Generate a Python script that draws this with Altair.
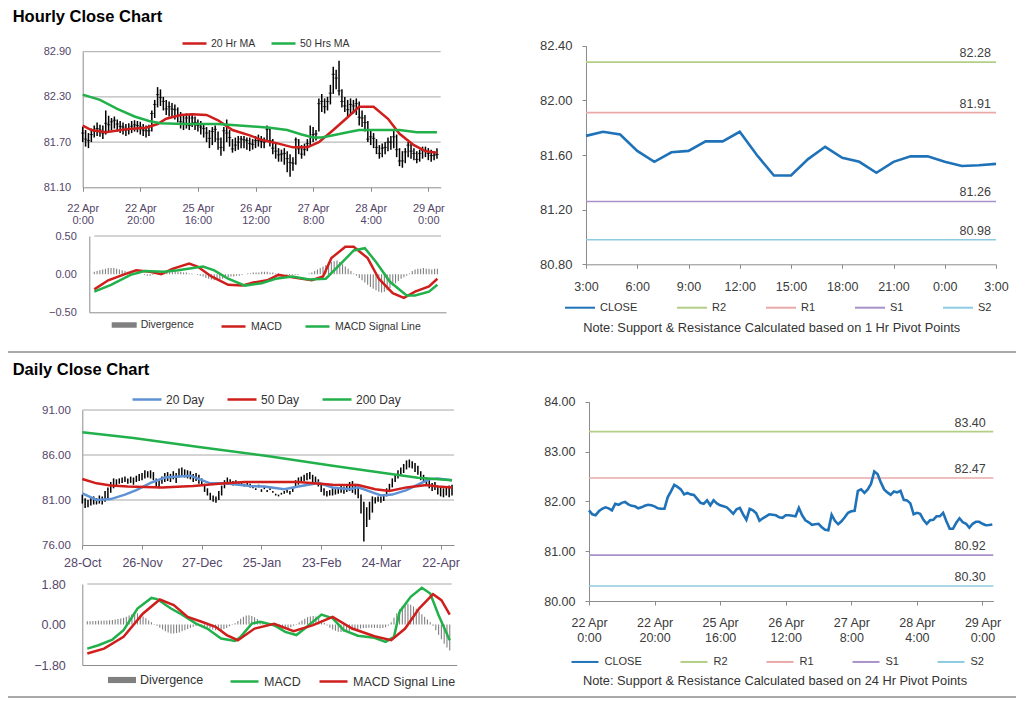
import json
import pandas as pd
import altair as alt

# ======================= DATA =======================
HOURLY_TICKS = [["22 Apr", "0:00"], ["22 Apr", "20:00"], ["25 Apr", "16:00"], ["26 Apr", "12:00"],
                ["27 Apr", "8:00"], ["28 Apr", "4:00"], ["29 Apr", "0:00"]]
PIVOT_HOURS = ["3:00", "6:00", "9:00", "12:00", "15:00", "18:00", "21:00", "0:00", "3:00"]
DAILY_TICKS = ["28-Oct", "26-Nov", "27-Dec", "25-Jan", "23-Feb", "24-Mar", "22-Apr"]

# hourly closes (22 Apr 0:00 ... 29 Apr 3:00)
h_close = [81.82, 81.74, 81.72, 81.80, 81.85, 81.88, 81.86, 81.82, 81.95, 81.93,
           81.97, 81.99, 81.94, 81.91, 81.90, 81.86, 81.88, 81.91, 81.93, 81.92,
           81.90, 81.86, 81.85, 81.85, 82.08, 82.20, 82.33, 82.29, 82.24, 82.14,
           82.17, 82.14, 82.13, 82.05, 81.97, 81.95, 82.02, 81.92, 82.02, 81.96,
           81.92, 81.90, 81.88, 81.82, 81.75, 81.84, 81.87, 81.74, 81.63, 81.85,
           81.82, 81.76, 81.61, 81.66, 81.70, 81.74, 81.73, 81.72, 81.68, 81.67,
           81.72, 81.72, 81.71, 81.70, 81.87, 81.72, 81.62, 81.58, 81.53, 81.54,
           81.55, 81.48, 81.43, 81.42, 81.73, 81.61, 81.54, 81.60, 81.68, 81.77,
           81.80, 81.81, 82.21, 82.24, 82.17, 82.24, 82.35, 82.60, 82.55, 82.38,
           82.24, 82.18, 82.13, 82.20, 82.18, 82.21, 82.03, 82.02, 81.96, 81.74,
           81.77, 81.75, 81.63, 81.55, 81.62, 81.63, 81.70, 81.70, 81.77, 81.60,
           81.45, 81.45, 81.57, 81.66, 81.58, 81.55, 81.47, 81.55, 81.59, 81.59,
           81.55, 81.52, 81.525, 81.535]
h_high = [81.90, 81.86, 81.82, 81.88, 81.92, 81.96, 81.93, 81.92, 82.12, 82.05,
          82.02, 82.04, 82.00, 81.98, 81.96, 81.94, 81.95, 81.98, 81.99, 81.98,
          81.97, 81.94, 81.92, 81.93, 82.12, 82.26, 82.43, 82.40, 82.30, 82.26,
          82.24, 82.22, 82.20, 82.16, 82.10, 82.06, 82.08, 82.06, 82.08, 82.04,
          82.00, 81.98, 81.94, 81.90, 81.86, 81.90, 81.92, 81.84, 81.76, 81.90,
          82.00, 81.86, 81.74, 81.76, 81.78, 81.78, 81.78, 81.76, 81.76, 81.74,
          81.78, 81.80, 81.78, 81.76, 81.92, 81.88, 81.74, 81.68, 81.62, 81.60,
          81.62, 81.58, 81.54, 81.50, 81.76, 81.74, 81.66, 81.68, 81.74, 81.92,
          81.90, 81.86, 82.28, 82.34, 82.28, 82.30, 82.46, 82.70, 82.66, 82.78,
          82.40, 82.30, 82.26, 82.28, 82.26, 82.28, 82.24, 82.12, 82.06, 81.98,
          81.86, 81.82, 81.74, 81.66, 81.68, 81.70, 81.76, 81.78, 81.86, 81.80,
          81.62, 81.58, 81.62, 81.70, 81.68, 81.62, 81.58, 81.60, 81.64, 81.64,
          81.62, 81.60, 81.58, 81.62]
h_low = [81.70, 81.64, 81.62, 81.70, 81.76, 81.78, 81.77, 81.74, 81.80, 81.84,
         81.86, 81.88, 81.84, 81.82, 81.80, 81.78, 81.80, 81.82, 81.84, 81.83,
         81.80, 81.78, 81.76, 81.78, 81.84, 82.02, 82.16, 82.18, 82.12, 82.06,
         82.04, 82.02, 82.00, 81.96, 81.88, 81.86, 81.88, 81.86, 81.90, 81.86,
         81.84, 81.80, 81.76, 81.70, 81.62, 81.66, 81.70, 81.60, 81.52, 81.58,
         81.70, 81.64, 81.56, 81.58, 81.60, 81.62, 81.62, 81.60, 81.58, 81.60,
         81.62, 81.64, 81.62, 81.62, 81.70, 81.64, 81.54, 81.48, 81.44, 81.44,
         81.40, 81.30, 81.24, 81.32, 81.40, 81.54, 81.48, 81.52, 81.58, 81.66,
         81.70, 81.72, 81.84, 82.10, 82.08, 82.12, 82.20, 82.34, 82.40, 82.32,
         82.16, 82.10, 82.04, 82.06, 82.08, 82.06, 81.92, 81.90, 81.84, 81.70,
         81.66, 81.62, 81.54, 81.48, 81.50, 81.54, 81.58, 81.60, 81.62, 81.50,
         81.38, 81.36, 81.42, 81.50, 81.48, 81.46, 81.42, 81.44, 81.48, 81.50,
         81.46, 81.44, 81.46, 81.48]

ma20_i = [0, 3, 8, 15, 22, 26, 29, 34, 38, 43, 47, 52, 58, 62, 68, 73, 78, 82, 87, 92, 96, 101, 106, 110, 115, 119, 123]
ma20_v = [81.92, 81.86, 81.83, 81.87, 81.89, 81.94, 82.01, 82.06, 82.07, 82.06, 81.99, 81.86, 81.79, 81.73,
          81.68, 81.63, 81.63, 81.70, 81.86, 82.03, 82.17, 82.17, 82.01, 81.81, 81.66, 81.58, 81.56]
ma50_i = [0, 6, 12, 18, 23, 27, 35, 47, 58, 65, 71, 76, 80, 83, 87, 92, 96, 101, 110, 116, 123]
ma50_v = [82.33, 82.26, 82.14, 82.04, 81.98, 81.95, 81.94, 81.94, 81.91, 81.89, 81.86, 81.80, 81.76, 81.76,
          81.79, 81.83, 81.86, 81.86, 81.86, 81.83, 81.83]

h_div = [0.03, 0.04, 0.05, 0.06, 0.07, 0.08, 0.08, 0.08, 0.07, 0.06,
         0.05, 0.04, 0.03, 0.03, 0.02, 0.02, 0.01, 0.00, -0.01, -0.02,
         -0.02, -0.01, 0.00, 0.01, 0.02, 0.02, 0.03, 0.03, 0.04, 0.04,
         0.03, 0.03, 0.02, 0.02, 0.01, 0.01, 0.00, -0.01, -0.02, -0.03,
         -0.05, -0.06, -0.07, -0.08, -0.08, -0.07, -0.06, -0.05, -0.04, -0.03,
         -0.03, -0.02, -0.02, -0.01, 0.00, 0.01, 0.01, 0.02, 0.02, 0.02,
         0.03, 0.03, 0.03, 0.02, 0.02, 0.01, 0.01, 0.00, 0.00, -0.01,
         -0.01, -0.01, -0.01, -0.01, 0.00, 0.00, 0.00, 0.01, 0.02, 0.04,
         0.06, 0.08, 0.10, 0.12, 0.14, 0.16, 0.17, 0.18, 0.16, 0.13,
         0.10, 0.07, 0.04, 0.01, -0.02, -0.05, -0.08, -0.11, -0.14, -0.17,
         -0.19, -0.21, -0.23, -0.24, -0.23, -0.21, -0.18, -0.15, -0.12, -0.09,
         -0.06, -0.04, -0.02, 0.01, 0.04, 0.06, 0.07, 0.07, 0.08, 0.07,
         0.07, 0.06, 0.07, 0.07]
h_macd_i = [0, 5, 11, 15, 20, 24, 28, 34, 37, 42, 48, 53, 57, 62, 66, 71, 78, 82, 85, 90, 93, 98, 102, 107, 111, 115, 120, 123]
h_macd_v = [-0.20, -0.08, 0.00, 0.05, 0.03, 0.00, 0.07, 0.14, 0.10, -0.03, -0.14, -0.15, -0.11, -0.08,
            -0.01, -0.04, -0.08, -0.03, 0.21, 0.36, 0.36, 0.21, -0.06, -0.25, -0.31, -0.23, -0.16, -0.06]
h_sig_i = [0, 6, 13, 18, 25, 30, 39, 43, 48, 54, 60, 65, 71, 77, 83, 89, 93, 97, 101, 106, 112, 115, 120, 123]
h_sig_v = [-0.23, -0.14, -0.01, 0.04, 0.03, 0.05, 0.10, 0.05, -0.06, -0.15, -0.12, -0.06, -0.03, -0.07,
           -0.06, 0.16, 0.31, 0.34, 0.16, -0.10, -0.28, -0.28, -0.23, -0.14]

# last 24 hours (3:00 .. 3:00) for the 1 Hr pivot chart
p1_close = [81.74, 81.77, 81.75, 81.63, 81.55, 81.62, 81.63, 81.70, 81.70, 81.77, 81.60, 81.45, 81.45,
            81.57, 81.66, 81.58, 81.55, 81.47, 81.55, 81.59, 81.59, 81.55, 81.52, 81.525, 81.535]
PIVOT_NAMES = ["R2", "R1", "S1", "S2"]
p1_levels = [82.28, 81.91, 81.26, 80.98]
p24_levels = [83.40, 82.47, 80.92, 80.30]

# daily bars (28-Oct ... 29-Apr)
d_high = [81.6, 81.2, 81.0, 81.3, 81.4, 81.2, 81.5, 81.4, 82.0, 82.4,
          83.0, 83.4, 83.3, 83.4, 83.5, 83.6, 83.4, 83.6, 83.5, 83.7,
          83.9, 84.0, 84.3, 84.2, 84.3, 84.1, 83.4, 83.2, 83.6, 84.0,
          84.1, 83.9, 84.2, 84.0, 84.5, 84.6, 84.4, 84.3, 84.2, 83.9,
          84.0, 83.8, 83.4, 82.8, 82.3, 81.8, 81.5, 81.4, 82.0, 82.6,
          83.2, 83.5, 83.3, 83.1, 83.2, 82.9, 83.0, 82.8, 82.9, 82.8,
          82.6, 82.3, 82.7, 82.2, 82.5, 82.1, 82.3, 82.0, 81.7, 81.6,
          81.8, 82.0, 82.1, 82.0, 82.4, 83.2, 83.5, 83.6, 83.8, 84.0,
          84.1, 83.8, 83.6, 83.3, 82.8, 82.3, 82.0, 82.1, 82.3, 82.2,
          82.4, 82.6, 82.5, 82.7, 83.0, 83.1, 82.8, 82.5, 81.6, 80.8,
          80.2, 80.8, 81.4, 81.3, 81.4, 81.4, 81.6, 82.3, 82.8, 83.4,
          83.9, 84.3, 84.6, 85.0, 85.4, 85.5, 85.3, 85.1, 84.8, 84.2,
          83.8, 83.5, 83.2, 82.9, 83.0, 82.6, 82.4, 82.3, 82.5, 82.6, 82.7]
d_low = [80.6, 80.1, 80.2, 80.4, 80.5, 80.5, 80.6, 80.5, 80.8, 81.2,
         81.8, 82.3, 82.6, 82.8, 82.9, 83.0, 82.8, 82.9, 82.7, 83.0,
         83.1, 83.2, 83.4, 83.5, 83.4, 83.2, 82.4, 82.3, 82.8, 83.0,
         83.1, 83.0, 83.3, 82.9, 83.5, 83.6, 83.5, 83.4, 83.3, 83.0,
         83.1, 82.8, 82.6, 81.9, 81.5, 81.0, 80.8, 80.7, 81.0, 81.5,
         82.3, 82.7, 82.8, 82.6, 82.7, 82.6, 82.6, 82.5, 82.6, 82.4,
         82.3, 82.1, 82.4, 81.9, 82.2, 81.9, 82.1, 81.8, 81.5, 81.4,
         81.6, 81.7, 81.8, 81.6, 81.9, 82.4, 82.7, 82.9, 83.1, 83.2,
         83.3, 83.0, 82.8, 82.5, 81.9, 81.5, 81.4, 81.5, 81.5, 81.6,
         81.7, 81.8, 81.7, 81.9, 82.0, 81.8, 81.6, 81.2, 79.5, 76.4,
         78.0, 78.8, 79.6, 80.6, 80.8, 80.7, 80.9, 81.4, 81.9, 82.4,
         83.0, 83.4, 83.7, 84.0, 84.4, 84.6, 84.5, 84.1, 83.8, 83.2,
         82.9, 82.6, 82.3, 82.0, 82.1, 81.6, 81.4, 81.3, 81.5, 81.3, 81.5]
d20_i = [0, 5, 10, 15, 19, 24, 29, 34, 38, 42, 45, 50, 55, 59, 64, 71, 76, 83, 88, 94, 97, 102, 105, 109, 114, 118, 122, 125, 130]
d20_v = [81.74, 81.0, 81.1, 81.6, 82.1, 82.9, 83.5, 83.6, 83.7, 83.2, 82.85, 82.85, 82.7, 82.55, 82.5,
         82.2, 82.5, 82.9, 82.4, 82.2, 82.4, 81.85, 81.5, 81.6, 82.1, 82.7, 83.3, 83.4, 83.2]
d50_i = [0, 5, 10, 16, 28, 39, 48, 57, 66, 76, 88, 97, 103, 108, 114, 121, 125, 130]
d50_v = [83.33, 82.85, 82.6, 82.5, 82.4, 82.55, 82.8, 83.0, 83.0, 83.0, 82.7, 82.67, 82.2, 82.0, 82.4,
         82.67, 82.5, 82.4]
d200_i = [0, 18, 41, 65, 88, 106, 118, 130]
d200_v = [88.54, 87.9, 86.9, 85.9, 84.8, 84.0, 83.46, 83.2]

d_div = [0.15, 0.15, 0.16, 0.16, 0.17, 0.17, 0.18, 0.18, 0.19, 0.20,
         0.22, 0.24, 0.27, 0.30, 0.34, 0.40, 0.46, 0.52, 0.50, 0.44,
         0.36, 0.28, 0.18, 0.10, 0.02, -0.06, -0.14, -0.22, -0.30, -0.36,
         -0.40, -0.40, -0.38, -0.35, -0.30, -0.25, -0.20, -0.15, -0.10, -0.06,
         -0.04, -0.06, -0.10, -0.14, -0.18, -0.22, -0.25, -0.26, -0.24, -0.20,
         -0.15, -0.08, -0.02, 0.06, 0.16, 0.26, 0.34, 0.40, 0.41, 0.38,
         0.32, 0.24, 0.16, 0.08, 0.02, -0.02, -0.06, -0.10, -0.14, -0.17,
         -0.18, -0.18, -0.16, -0.12, -0.06, 0.02, 0.10, 0.18, 0.26, 0.32,
         0.36, 0.38, 0.36, 0.30, 0.20, 0.08, -0.04, -0.14, -0.22, -0.28,
         -0.32, -0.33, -0.32, -0.30, -0.28, -0.25, -0.22, -0.20, -0.18, -0.16,
         -0.15, -0.14, -0.14, -0.15, -0.16, -0.17, -0.16, -0.12, -0.04, 0.10,
         0.30, 0.50, 0.68, 0.82, 0.90, 0.92, 0.88, 0.80, 0.70, 0.58,
         0.46, 0.34, 0.22, 0.10, -0.05, -0.25, -0.45, -0.65, -0.85, -1.02, -1.15]
d_macd_i = [0, 4, 9, 13, 18, 23, 25, 30, 34, 39, 43, 48, 53, 55, 59, 62, 67, 71, 75, 78, 84, 88, 92, 97,
            103, 107, 110, 112, 116, 120, 123, 126, 130]
d_macd_v = [-1.07, -0.92, -0.67, -0.25, 0.71, 1.18, 1.13, 0.71, 0.44, 0.04, -0.18, -0.62, -0.73, -0.55,
            0.04, 0.12, -0.03, -0.33, -0.47, -0.18, 0.44, 0.27, -0.25, -0.50, -0.59, -0.77, -0.55, 0.56,
            1.23, 1.63, 1.38, 0.41, -0.70]
d_sig_i = [0, 6, 13, 20, 26, 31, 36, 41, 46, 50, 54, 60, 67, 74, 81, 88, 95, 103, 109, 114, 119, 124, 127, 130]
d_sig_v = [-1.29, -1.07, -0.55, 0.49, 1.11, 0.86, 0.34, 0.12, -0.10, -0.47, -0.70, -0.18, 0.03, -0.30,
           -0.03, 0.34, -0.18, -0.52, -0.70, -0.18, 0.71, 1.35, 1.08, 0.44]

# ======================= STYLE / LAYOUT =======================
FONT = "Liberation Sans"
W, H = 1008, 690
LEFT_LBL = "#54466a"
RIGHT_LBL = "#3a3a3a"
AXIS_C = "#8c8c8c"
GRID_C = "#a8a8a8"
RED = "#cf1f1c"
GREEN = "#22b04b"
BLUE20 = "#5f92d4"
CLOSE_BLUE = "#1f72b8"
PIVOT_COLORS = ["#b3cf86", "#eaa9a9", "#a992c9", "#8ccbe0"]
DIV_C = "#808080"
DIV_SYMBOL = "M-1,-0.22H1V0.22H-1Z"


def lin(dom, rng):
    return alt.Scale(domain=dom, range=rng, nice=False, zero=False)


def xaxis(offset, values=None, expr=None, size=11, pad=8, lh=13, color=LEFT_LBL, labels=True, ticks=True):
    kw = dict(orient="bottom", offset=offset, grid=False, title=None, domainColor=AXIS_C, tickColor=AXIS_C,
              labels=labels, ticks=ticks, labelFont=FONT, labelFontSize=size, labelColor=color,
              labelFlush=False, labelOverlap=False, labelPadding=pad, labelLineHeight=lh,
              tickSize=4 if ticks else 0)
    if values is not None:
        kw["values"] = values
    else:
        kw["tickCount"] = 0
    if expr is not None:
        kw["labelExpr"] = expr
    return alt.Axis(**kw)


def yaxis(offset, values, size=11, pad=12, color=LEFT_LBL, ticks=False):
    return alt.Axis(orient="left", offset=offset, values=values, format=".2f", grid=False, title=None,
                    domainColor=AXIS_C, tickColor=AXIS_C, ticks=ticks, tickSize=4 if ticks else 0,
                    labelPadding=pad, labelFont=FONT, labelFontSize=size, labelColor=color,
                    labelFlush=False, labelOverlap=False)


def legend(x, y, n, size, fs, colpad, offset=4, sym="stroke", sw=2.5):
    return alt.Legend(orient="none", legendX=x, legendY=y, direction="horizontal", columns=n, title=None,
                      symbolType=sym, symbolSize=size, symbolStrokeWidth=sw, labelFont=FONT,
                      labelFontSize=fs, labelColor="#333333", columnPadding=colpad, labelOffset=offset,
                      padding=0, rowPadding=0)


def long_df(parts):
    rows = []
    for name, xs_, vs_ in parts:
        for a, b in zip(xs_, vs_):
            rows.append({"s": name, "i": a, "v": b})
    return pd.DataFrame(rows)


class Panel:
    def __init__(self, X, Y, AX, AY):
        self.X, self.Y, self.AX, self.AY = X, Y, AX, AY

    def x(self, f):
        return alt.X(f, scale=self.X, axis=self.AX)

    def y(self, f, **kw):
        return alt.Y(f, scale=self.Y, axis=self.AY, **kw)


def grid(p, vals, x0, x1):
    df = pd.DataFrame({"v": vals, "x0": [x0] * len(vals), "x1": [x1] * len(vals)})
    return alt.Chart(df).mark_rule(color=GRID_C, strokeWidth=1).encode(
        x=p.x("x0:Q"), x2="x1:Q", y=p.y("v:Q"))


def hl_bars(p, hi, lo, w=1.5):
    df = pd.DataFrame({"i": list(range(len(hi))), "hi": hi, "lo": lo})
    return alt.Chart(df).mark_rule(color="#000000", strokeWidth=w).encode(
        x=p.x("i:Q"), y=p.y("lo:Q"), y2="hi:Q")


def close_ticks(p, close):
    df = pd.DataFrame({"i": list(range(len(close))), "c": close})
    return alt.Chart(df).mark_tick(color="#000000", orient="horizontal", size=3.5, thickness=1).encode(
        x=p.x("i:Q"), y=p.y("c:Q"))


def lines(p, parts, names, colors, leg, sw=2.5):
    return alt.Chart(long_df(parts)).mark_line(strokeWidth=sw).encode(
        x=p.x("i:Q"), y=p.y("v:Q"),
        stroke=alt.Stroke("s:N", scale=alt.Scale(domain=names, range=colors), legend=leg))


def div_bars(p, vals, leg):
    df = pd.DataFrame({"i": list(range(len(vals))), "v": vals, "s": ["Divergence"] * len(vals)})
    return alt.Chart(df).mark_bar(size=1.1, orient="vertical").encode(
        x=p.x("i:Q"), y=p.y("v:Q", stack=None), y2=alt.datum(0),
        fill=alt.Fill("s:N", scale=alt.Scale(domain=["Divergence"], range=[DIV_C]), legend=leg))


def text(txt, x, y, size, weight="normal", align="left", color="#000000"):
    return alt.Chart(pd.DataFrame({"t": [txt]})).mark_text(
        align=align, baseline="alphabetic", fontSize=size, fontWeight=weight, color=color, font=FONT
    ).encode(x=alt.value(x), y=alt.value(y), text="t:N")


def hrule(y, x0=0, x1=W):
    return alt.Chart(pd.DataFrame({"k": [0]})).mark_rule(color="#8c8c8c", strokeWidth=1.5).encode(
        x=alt.value(x0), x2=alt.value(x1), y=alt.value(y))


def pivot_panel(p, close, levels, xmax, leg, label_x, fs):
    names = ["CLOSE"] + PIVOT_NAMES
    colors = [CLOSE_BLUE] + PIVOT_COLORS
    sc = alt.Scale(domain=names, range=colors)
    lv = pd.DataFrame({"s": PIVOT_NAMES, "v": levels, "x0": [0] * 4, "x1": [xmax] * 4, "lx": [label_x] * 4})
    rules = alt.Chart(lv).mark_rule(strokeWidth=1.6).encode(
        x=p.x("x0:Q"), x2="x1:Q", y=p.y("v:Q"), stroke=alt.Stroke("s:N", scale=sc, legend=leg))
    cdf = pd.DataFrame({"i": list(range(len(close))), "v": close, "s": ["CLOSE"] * len(close)})
    cl = alt.Chart(cdf).mark_line(strokeWidth=2.6).encode(
        x=p.x("i:Q"), y=p.y("v:Q"), stroke=alt.Stroke("s:N", scale=sc, legend=leg))
    labels = alt.Chart(lv).mark_text(align="right", baseline="alphabetic", dy=-5, fontSize=fs,
                                      color="#404040", font=FONT).encode(
        x=p.x("lx:Q"), y=p.y("v:Q"), text=alt.Text("v:Q", format=".2f"))
    return alt.layer(rules, cl, labels)


# ---------- Panel 1: hourly price ----------
P1 = Panel(lin([0, 124.3], [74.7, 432.7]), lin([81.1, 82.9], [179.3, 43.7]),
           xaxis(179.3 - H, list(range(0, 121, 20)), f"{json.dumps(HOURLY_TICKS)}[round(datum.value / 20)]",
                 size=11, pad=11, lh=12.5),
           yaxis(-74.7, [81.1, 81.7, 82.3, 82.9], size=11, pad=12))
p1 = alt.layer(
    grid(P1, [81.7, 82.3, 82.9], 0, 124.3),
    hl_bars(P1, h_high, h_low),
    close_ticks(P1, h_close),
    lines(P1, [("20 Hr MA", ma20_i, ma20_v), ("50 Hrs MA", ma50_i, ma50_v)], ["20 Hr MA", "50 Hrs MA"],
          [RED, GREEN], legend(173, 22, 2, 576, 10.5, 10, 3)),
)

# ---------- Panel 2: hourly MACD ----------
P2 = Panel(lin([0, 124.3], [81.3, 438]), lin([-0.5, 0.5], [304.3, 228]),
           xaxis(304.3 - H, labels=False, ticks=False),
           yaxis(-81.3, [-0.5, 0.0, 0.5], size=11, pad=13))
p2 = alt.layer(
    grid(P2, [0.5], 0, 124.3),
    div_bars(P2, h_div, legend(103.7, 304.5, 1, 625, 10.5, 10, 4, DIV_SYMBOL, 0)),
    lines(P2, [("MACD", h_macd_i, h_macd_v), ("MACD Signal Line", h_sig_i, h_sig_v)],
          ["MACD", "MACD Signal Line"], [RED, GREEN], legend(212, 305, 2, 576, 10.5, 18, 4)),
)

# ---------- Panel 3: 1 Hr pivot ----------
P3 = Panel(lin([0, 24], [578, 988]), lin([80.8, 82.4], [256.3, 37.7]),
           xaxis(256.3 - H, list(range(0, 25, 3)), f"{json.dumps(PIVOT_HOURS)}[round(datum.value / 3)]",
                 size=12.5, pad=12, color=RIGHT_LBL),
           yaxis(-578, [80.8, 81.2, 81.6, 82.0, 82.4], size=13, pad=10, color=RIGHT_LBL, ticks=True))
p3 = pivot_panel(P3, p1_close, p1_levels, 24, legend(556, 283.7, 5, 900, 11, 35, 4, "stroke", 2), 23.7, 12.5)

# ---------- Panel 4: daily price ----------
P4 = Panel(lin([0, 130.7], [74.3, 446]), lin([76, 91], [537, 402]),
           xaxis(537 - H, list(range(0, 127, 21)), f"{json.dumps(DAILY_TICKS)}[round(datum.value / 21)]",
                 size=12.5, pad=7),
           yaxis(-74.3, [76, 81, 86, 91], size=11.5, pad=12))
p4 = alt.layer(
    grid(P4, [81, 86, 91], 0, 130.7),
    hl_bars(P4, d_high, d_low),
    lines(P4, [("20 Day", d20_i, d20_v), ("50 Day", d50_i, d50_v), ("200 Day", d200_i, d200_v)],
          ["20 Day", "50 Day", "200 Day"], [BLUE20, RED, GREEN], legend(123, 375.5, 3, 841, 12, 17, 3)),
)

# ---------- Panel 5: daily MACD ----------
P5 = Panel(lin([0, 130.7], [74.3, 448.7]), lin([-1.8, 1.8], [657, 576]),
           xaxis(657 - H, labels=False, ticks=False),
           yaxis(-74.3, [-1.8, 0.0, 1.8], size=12.5, pad=17))
p5 = alt.layer(
    grid(P5, [1.8], 0, 130.7),
    div_bars(P5, d_div, legend(100, 658, 1, 784, 12.5, 10, 4, DIV_SYMBOL, 0)),
    lines(P5, [("MACD", d_macd_i, d_macd_v), ("MACD Signal Line", d_sig_i, d_sig_v)],
          ["MACD", "MACD Signal Line"], [GREEN, RED], legend(221, 658, 2, 784, 12.5, 13, 4)),
)

# ---------- Panel 6: 24 Hr pivot ----------
P6 = Panel(lin([0, 123.3], [581, 985.3]), lin([80, 84], [593, 393.7]),
           xaxis(593 - H, list(range(0, 121, 20)), f"{json.dumps(HOURLY_TICKS)}[round(datum.value / 20)]",
                 size=12.5, pad=11, lh=15, color=RIGHT_LBL),
           yaxis(-581, [80, 81, 82, 83, 84], size=12.5, pad=10, color=RIGHT_LBL, ticks=True))
p6 = pivot_panel(P6, h_close, p24_levels, 123.3, legend(562.5, 639.2, 5, 729, 11, 34, 5, "stroke", 2), 121.0, 12.5)

deco = [
    text("Hourly Close Chart", 4.7, 13.7, 16.5, "bold"),
    text("Daily Close Chart", 4.7, 367, 16.5, "bold"),
    text("Note: Support & Resistance Calculated based on 1 Hr Pivot Points", 763.7, 324, 12.8, align="center",
         color="#333333"),
    text("Note: Support & Resistance Calculated based on 24 Hr Pivot Points", 767, 677, 12.8, align="center",
         color="#333333"),
    hrule(344),
    hrule(689),
]

chart = alt.layer(p1, p2, p3, p4, p5, p6, *deco).resolve_scale(
    x="independent", y="independent", stroke="independent", fill="independent"
).resolve_axis(x="independent", y="independent").resolve_legend(
    stroke="independent", fill="independent"
).properties(width=W, height=H, padding=0, autosize="none").configure(font=FONT).configure_view(stroke=None)

chart.save("out.html", embed_options={"renderer": "svg", "actions": False})
